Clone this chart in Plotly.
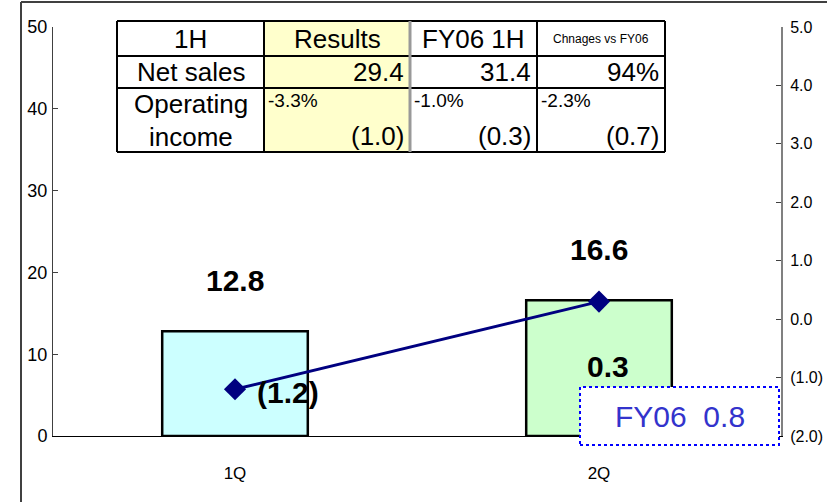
import plotly.graph_objects as go

# ---- data ----
quarters = ["1Q", "2Q"]
net_sales = [12.8, 16.6]
net_sales_labels = ["12.8", "16.6"]
op_income = [-1.2, 0.3]
op_income_labels = ["(1.2)", "0.3"]
bar_colors = ["#CCFFFF", "#CCFFCC"]

left_ticks = [0, 10, 20, 30, 40, 50]
right_ticks = [-2, -1, 0, 1, 2, 3, 4, 5]
right_tick_text = ["(2.0)", "(1.0)", "0.0", "1.0", "2.0", "3.0", "4.0", "5.0"]

table_header = ["1H", "Results", "FY06 1H", "Chnages vs FY06"]
net_sales_row = ["Net sales", "29.4", "31.4", "94%"]
op_row_title = ["Operating", "income"]
op_margin_row = ["-3.3%", "-1.0%", "-2.3%"]
op_income_row = ["(1.0)", "(0.3)", "(0.7)"]
fy06_label = "FY06\u00a0\u00a00.8"

FONT = "Liberation Sans, Arial, sans-serif"

# plot area geometry (pixels)
L, R, T, B = 53, 781, 27, 436
W, H = 827, 502


def PX(px):
    return (px - L) / (R - L)


def PY(py):
    return (B - py) / (B - T)


fig = go.Figure()
fig.add_trace(go.Bar(
    x=quarters, y=net_sales, width=0.4,
    marker=dict(color=bar_colors, line=dict(color="black", width=2.5)),
    showlegend=False, hoverinfo="skip"))
fig.add_trace(go.Scatter(
    x=quarters, y=op_income, yaxis="y2", mode="lines+markers",
    line=dict(color="#000080", width=3),
    marker=dict(symbol="diamond", size=17, color="#000080"),
    showlegend=False, hoverinfo="skip"))

annotations = []
bold = dict(family=FONT, size=30, color="black", weight="bold")
# bar value labels
for q, v, t in zip(quarters, net_sales, net_sales_labels):
    annotations.append(dict(x=q, y=v, xref="x", yref="y", text=t, showarrow=False,
                            xanchor="center", yanchor="middle", yshift=51, font=bold))
# operating income labels
annotations.append(dict(x=quarters[0], y=op_income[0], xref="x", yref="y2", text=op_income_labels[0],
                        showarrow=False, xanchor="left", yanchor="middle", xshift=20, yshift=-3, font=bold))
annotations.append(dict(x=quarters[1], y=op_income[1], xref="x", yref="y2", text=op_income_labels[1],
                        showarrow=False, xanchor="center", yanchor="middle", xshift=9, yshift=-65, font=bold))

shapes = []
# outer frame
shapes.append(dict(type="line", xref="paper", yref="paper", x0=PX(21), x1=PX(21), y0=PY(2), y1=PY(560),
                   line=dict(color="#404040", width=2)))
shapes.append(dict(type="line", xref="paper", yref="paper", x0=PX(21), x1=PX(900), y0=PY(2), y1=PY(2),
                   line=dict(color="#404040", width=2)))

# table
cols = [117, 264, 410, 537, 665]
rows = [21, 56, 88, 152]
shapes.append(dict(type="rect", xref="paper", yref="paper", x0=PX(cols[0]), x1=PX(cols[4]),
                   y0=PY(rows[3]), y1=PY(rows[0]), fillcolor="white", line=dict(width=0), layer="above"))
shapes.append(dict(type="rect", xref="paper", yref="paper", x0=PX(cols[1]), x1=PX(cols[2]),
                   y0=PY(rows[3]), y1=PY(rows[0]), fillcolor="#FFFFCC", line=dict(width=0), layer="above"))
for ry in rows:
    shapes.append(dict(type="line", xref="paper", yref="paper", x0=PX(cols[0]), x1=PX(cols[4]),
                       y0=PY(ry), y1=PY(ry), line=dict(color="black", width=2), layer="above"))
for i, cx in enumerate(cols):
    color = "#999999" if i == 2 else "black"
    width = 3 if i == 2 else 2
    shapes.append(dict(type="line", xref="paper", yref="paper", x0=PX(cx), x1=PX(cx),
                       y0=PY(rows[3]), y1=PY(rows[0]), line=dict(color=color, width=width), layer="above"))

TXT = 26


def cell_text(x, y, text, size, anchor="center"):
    annotations.append(dict(x=PX(x), y=PY(y), xref="paper", yref="paper", text=text, showarrow=False,
                            xanchor=anchor, yanchor="middle",
                            font=dict(family=FONT, size=size, color="black")))


# header row
for i, t in enumerate(table_header):
    cx = (cols[i] + cols[i + 1]) / 2
    cell_text(cx, 39, t, 12 if i == 3 else TXT)
# net sales row
cell_text((cols[0] + cols[1]) / 2, 72, net_sales_row[0], TXT)
for i in range(1, 4):
    cell_text(cols[i + 1] - 4, 72, net_sales_row[i], TXT, "right")
# operating income row
cell_text((cols[0] + cols[1]) / 2, 104, op_row_title[0], TXT)
cell_text((cols[0] + cols[1]) / 2, 137, op_row_title[1], TXT)
for i in range(3):
    cell_text(cols[i + 1] + 2, 100, op_margin_row[i], 19, "left")
    cell_text(cols[i + 2] - 4, 136, op_income_row[i], TXT, "right")

# FY06 box
shapes.append(dict(type="rect", xref="paper", yref="paper", x0=PX(580), x1=PX(779), y0=PY(445), y1=PY(387),
                   fillcolor="white", line=dict(color="#0000FF", width=2, dash="dot"), layer="above"))
annotations.append(dict(x=PX(680), y=PY(416), xref="paper", yref="paper", text=fy06_label, showarrow=False,
                        xanchor="center", yanchor="middle",
                        font=dict(family=FONT, size=30, color="#3333CC")))

fig.update_layout(
    width=W, height=H,
    margin=dict(l=L, r=W - R, t=T, b=H - B, autoexpand=False),
    paper_bgcolor="white", plot_bgcolor="white",
    xaxis=dict(showline=True, linecolor="black", linewidth=1, ticks="", showgrid=False, zeroline=False,
               tickfont=dict(family=FONT, size=17, color="black"), ticklabelstandoff=22,
               range=[-0.5, 1.5], automargin=False),
    yaxis=dict(range=[0, 50], tickvals=left_ticks, ticks="inside", ticklen=5, tickcolor="#404040",
               showline=True, linecolor="#404040", linewidth=1, showgrid=False, zeroline=False,
               tickfont=dict(family=FONT, size=18, color="black"), ticklabelstandoff=1, automargin=False),
    yaxis2=dict(range=[-2, 5], tickvals=right_ticks, ticktext=right_tick_text, overlaying="y", side="right",
                ticks="inside", ticklen=5, tickcolor="#404040", showline=True, linecolor="#808080",
                linewidth=2, showgrid=False, zeroline=False,
                tickfont=dict(family=FONT, size=16, color="black"), ticklabelstandoff=4, automargin=False),
    annotations=annotations,
    shapes=shapes,
)

fig.write_html("out.html", config={"displayModeBar": False},
               post_script="document.body.style.margin='0';document.body.style.overflow='hidden';")
